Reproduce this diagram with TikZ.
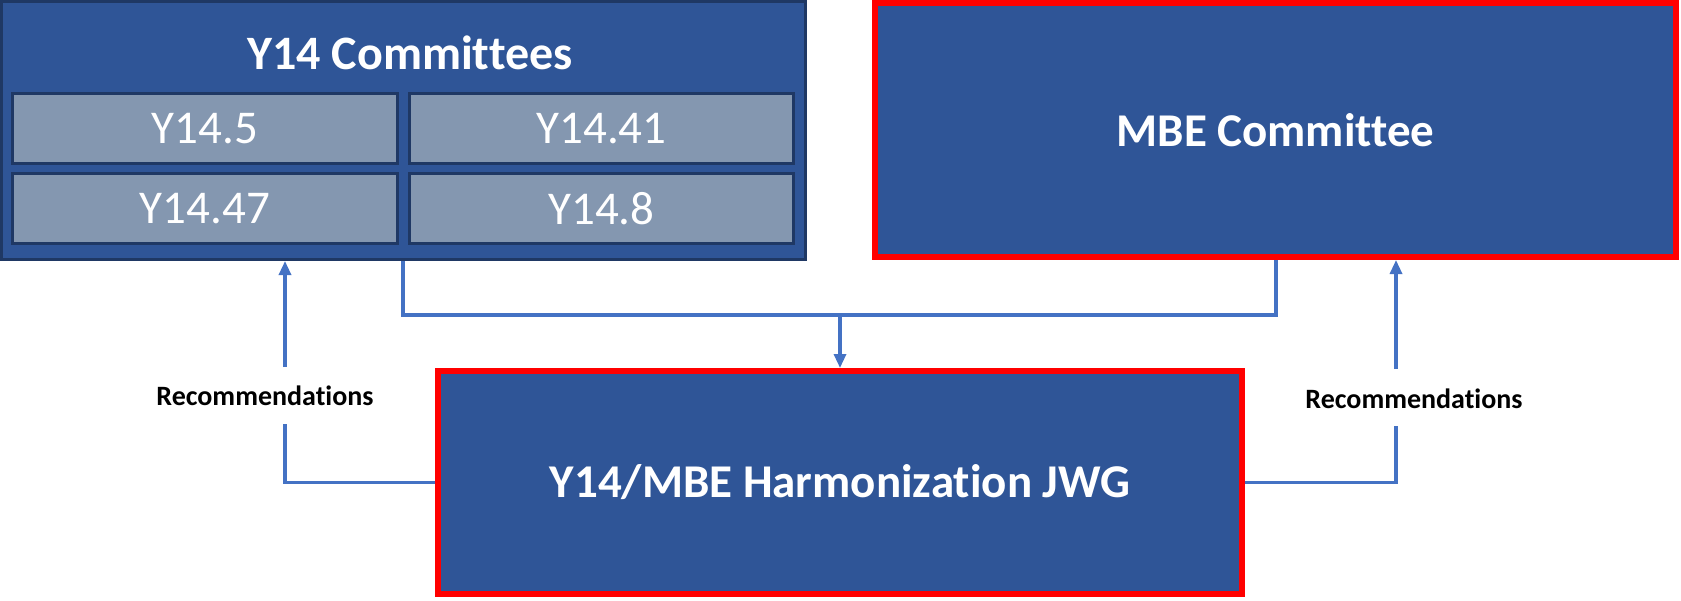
\documentclass[tikz,border=0pt]{standalone}
\usepackage{fontspec}
\setmainfont{Carlito}[Ligatures=NoCommon]
\usetikzlibrary{arrows.meta}
\definecolor{boxblue}{HTML}{2F5597}
\definecolor{subfill}{HTML}{8497B0}
\definecolor{navyline}{HTML}{1F3864}
\definecolor{redline}{HTML}{FF0000}
\definecolor{connblue}{HTML}{4472C4}
\begin{document}
\begin{tikzpicture}[x=1pt,y=-1pt,
  panel/.style={draw=navyline,line width=3pt,fill=boxblue,inner sep=0pt},
  subbox/.style={draw=navyline,line width=3pt,fill=subfill,inner sep=0pt,text=white,
    font=\fontsize{47}{56}\selectfont,minimum height=70pt},
  redbox/.style={draw=redline,line width=6pt,fill=boxblue,inner sep=0pt,text=white,
    font=\bfseries\fontsize{47}{56}\selectfont},
  titletext/.style={text=white,font=\bfseries\fontsize{48}{57}\selectfont,inner sep=0pt},
  rectext/.style={text=black,font=\bfseries\fontsize{28}{33}\selectfont,inner sep=0pt},
  conn/.style={draw=connblue,line width=3.2pt},
  tipped/.style={-{Triangle[length=14pt,width=12pt]}}
]
\useasboundingbox (0,0) rectangle (1681,600);
% Y14 committees panel
\node[panel,minimum width=804pt,minimum height=258pt] (y14) at (403.5,130.5) {};
\node[titletext] (y14t) at (410,53) {Y14 Committees};
\node[subbox,minimum width=385pt] (s5) at (205,128.5) {Y14.5};
\node[subbox,minimum width=384pt] (s41) at (601.5,128.5) {Y14.41};
\node[subbox,minimum width=385pt] (s47) at (205,208.5) {Y14.47};
\node[subbox,minimum width=384pt] (s8) at (601.5,208.5) {Y14.8};
% MBE committee
\node[redbox,minimum width=801pt,minimum height=254pt] (mbe) at (1275.5,130) {MBE Committee};
% JWG
\node[redbox,minimum width=804pt,minimum height=223pt] (jwg) at (840,482.5) {Y14/MBE Harmonization JWG};
% top merge connector
\coordinate (yb) at (403,315);
\coordinate (mb) at (1276,315);
\draw[conn] (y14.south -| yb) -- (yb) -- (mb) -- (mbe.south -| mb);
\draw[conn,tipped] (jwg.north |- yb) -- (jwg.north);
% left recommendations
\coordinate (lb) at (285,424);
\coordinate (lt) at (285,367);
\draw[conn] (jwg.west) -| (lb);
\draw[conn,tipped] (lt) -- (y14.south -| lt);
\node[rectext] (lrec) at (265,396) {Recommendations};
% right recommendations
\coordinate (rb) at (1396,426);
\coordinate (rt) at (1396,369);
\draw[conn] (jwg.east) -| (rb);
\draw[conn,tipped] (rt) -- (mbe.south -| rt);
\node[rectext] (rrec) at (1414,399) {Recommendations};
\end{tikzpicture}
\end{document}
